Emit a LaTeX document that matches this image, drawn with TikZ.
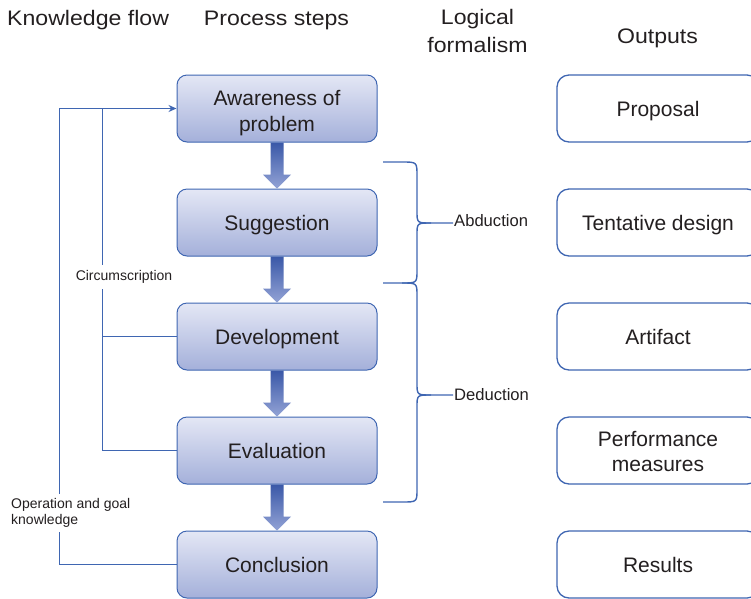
\documentclass[tikz,border=0pt]{standalone}
\usepackage{fontspec}
\setmainfont{Liberation Sans}
\newfontfamily\headfont[FakeStretch=1.1]{Liberation Sans}
\usetikzlibrary{calc,arrows.meta}
\definecolor{lineblue}{HTML}{3F66B2}
\definecolor{boxtop}{HTML}{E4E7F5}
\definecolor{boxbot}{HTML}{A4B0DA}
\definecolor{arrtop}{HTML}{3A58A8}
\definecolor{arrbot}{HTML}{93A3D6}
\definecolor{txt}{HTML}{231F20}
\newcommand\topstrut{\rule{0pt}{21.5pt}}
\newcommand\botstrut{\rule[-5pt]{0pt}{5pt}}
\begin{document}
\begin{tikzpicture}[x=1pt,y=-1pt,
  boxtext/.style={text=txt, font=\fontsize{21}{25.5}\selectfont, align=center, inner sep=0pt,
    execute at begin node=\topstrut, execute at end node=\botstrut},
  procbox/.style={boxtext, draw=lineblue, line width=1pt, rounded corners=10pt, top color=boxtop, bottom color=boxbot,
    minimum width=200pt, minimum height=67pt},
  outbox/.style={boxtext, draw=lineblue, line width=1.3pt, rounded corners=12pt, fill=white,
    minimum width=202pt, minimum height=67pt},
  head/.style={text=txt, font=\headfont\fontsize{21}{28}\selectfont, align=center, inner sep=0pt},
  flow/.style={draw=lineblue, line width=1.4pt},
  small/.style={text=txt, font=\fontsize{14}{16.5}\selectfont, fill=white, inner xsep=1pt},
  brlabel/.style={text=txt, font=\fontsize{16.6}{20}\selectfont, inner sep=1pt, anchor=west},
  blockarrow/.style={top color=arrtop, bottom color=arrbot}
]
\useasboundingbox (0,0) rectangle (751,598);
\clip (0,0) rectangle (751,598);

% headers
\node[head, anchor=base west] (h1) at (7,25) {Knowledge flow};
\node[head, anchor=base] (h2) at (276.5,25) {Process steps};
\node[head, anchor=north, execute at begin node={\rule{0pt}{16pt}}] (h3) at (477.5,9) {Logical\\formalism};
\node[head, anchor=base] (h4) at (657.5,43) {Outputs};

% process boxes
\node[procbox] (aw) at (277,108.5) {\rule{0pt}{24.5pt}Awareness of\\problem};
\node[procbox] (sg) at (277,222.5) {Suggestion};
\node[procbox] (dv) at (277,336.5) {Development};
\node[procbox] (ev) at (277,450.5) {Evaluation};
\node[procbox] (cn) at (277,564.5) {Conclusion};

% output boxes
\node[outbox] (o1) at (658,108.5) {Proposal};
\node[outbox] (o2) at (658,222.5) {Tentative design};
\node[outbox] (o3) at (658,336.5) {Artifact};
\node[outbox] (o4) at (658,450.5) {\rule{0pt}{21.5pt}Performance\\measures};
\node[outbox] (o5) at (658,564.5) {Results};

% block arrows
\foreach \u/\v in {aw/sg,sg/dv,dv/ev,ev/cn}{
  \shade[blockarrow] ($(\u.south)+(-6.5,0)$) -- ($(\v.north)+(-6.5,-14)$) -- ($(\v.north)+(-14,-14)$)
    -- (\v.north) -- ($(\v.north)+(14,-14)$) -- ($(\v.north)+(6.5,-14)$) -- ($(\u.south)+(6.5,0)$) -- cycle;
}

% knowledge flow lines
\draw[flow, -{Stealth[length=8pt,width=7pt]}] (cn.west) -- ++(-117,0) |- (aw.west);
\draw[flow] (ev.west) -- ++(-74,0) -- ([xshift=-74pt]aw.west);
\draw[flow] (dv.west) -- ++(-74,0);

\node[small, inner ysep=5pt] (circ) at (124,277) {Circumscription};
\node[small, anchor=west, align=left, inner ysep=4pt] (opg) at (10,513) {Operation and goal\\knowledge};

% braces
\node[brlabel] (abd) at (453,221) {Abduction};
\node[brlabel] (ded) at (453,395) {Deduction};

\draw[flow] (383,162) -- (402,162) .. controls (417,162) .. (417,176) -- (417,211)
   .. controls (417,223) .. (431,223) -- (abd.west |- 0,223);
\draw[flow] (431,223) .. controls (417,223) .. (417,235) -- (417,270)
   .. controls (417,283) .. (402,283) -- (383,283);
\draw[flow] (402,283) .. controls (417,283) .. (417,296) -- (417,383)
   .. controls (417,395) .. (431,395) -- (ded.west |- 0,395);
\draw[flow] (431,395) .. controls (417,395) .. (417,407) -- (417,489)
   .. controls (417,502) .. (402,502) -- (383,502);
\end{tikzpicture}
\end{document}
